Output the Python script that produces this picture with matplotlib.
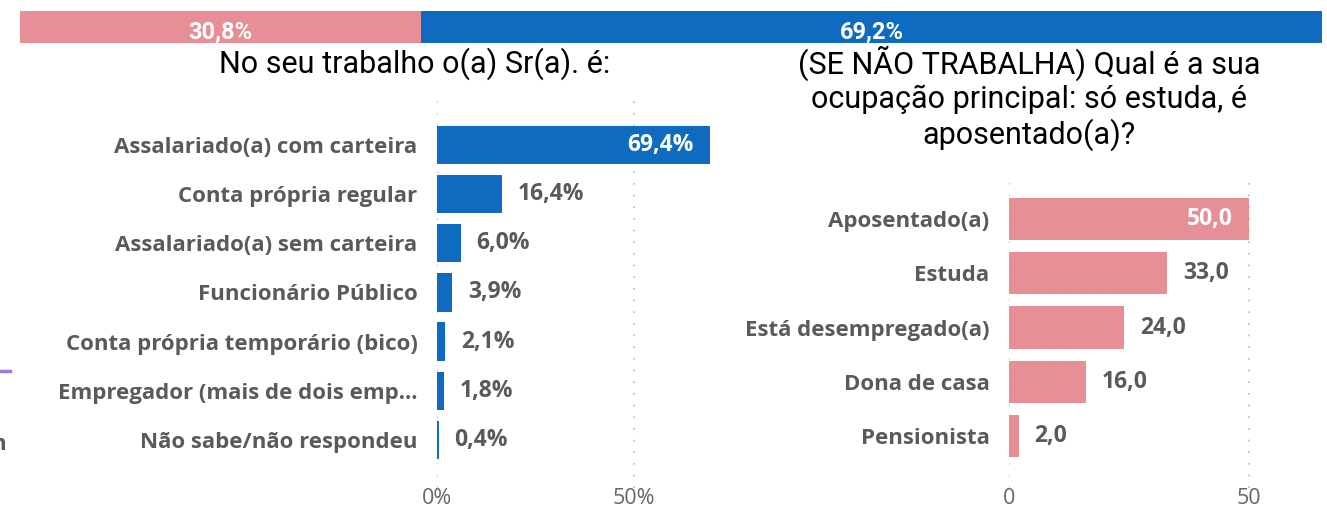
import matplotlib
matplotlib.use('Agg')
import numpy as np
from matplotlib import pyplot as plt

W, H = 1327, 514

# top split bar
split_labels = ['30,8%', '69,2%']
split_values = [30.8, 69.2]

# left chart
work_cats = ['Assalariado(a) com carteira', 'Conta própria regular', 'Assalariado(a) sem carteira',
             'Funcionário Público', 'Conta própria temporário (bico)',
             'Empregador (mais de dois emp...', 'Não sabe/não respondeu']
work_vals = [69.4, 16.4, 6.0, 3.9, 2.1, 1.8, 0.4]
work_labels = ['69,4%', '16,4%', '6,0%', '3,9%', '2,1%', '1,8%', '0,4%']

# right chart
occ_cats = ['Aposentado(a)', 'Estuda', 'Está desempregado(a)', 'Dona de casa', 'Pensionista']
occ_vals = [50.0, 33.0, 24.0, 16.0, 2.0]
occ_labels = ['50,0', '33,0', '24,0', '16,0', '2,0']

BLUE = '#0f6bbf'
PINK = '#e68f96'
GRAY = '#5a5a5a'
TITLE_FONT = ['Roboto', 'DejaVu Sans']
LABEL_FONT = ['Open Sans', 'DejaVu Sans']

fig = plt.figure(figsize=(W / 100, H / 100), dpi=100)


def px_axes(x0, y0, x1, y1):
    # pixel box (top-left origin) -> figure axes
    return fig.add_axes([x0 / W, 1 - y1 / H, (x1 - x0) / W, (y1 - y0) / H])


# top stacked bar
axt = px_axes(20, 11, 1322, 43)
left = 0
for v, lab, c in zip(split_values, split_labels, [PINK, BLUE]):
    axt.barh(0, v, left=left, height=1, color=c)
    axt.text(left + v / 2, -0.15, lab, ha='center', va='center', color='white',
             fontsize=17, fontweight='bold', family=TITLE_FONT)
    left += v
axt.set_xlim(0, 100)
axt.set_ylim(-0.5, 0.5)
axt.axis('off')


def hbar_panel(ax, cats, vals, labels, color, ymax, ymin):
    y = np.arange(len(cats))
    ax.barh(y, vals, height=0.78, color=color, zorder=2)
    ax.set_ylim(ymax, ymin)
    ax.set_yticks(y)
    ax.set_yticklabels(cats, fontsize=16, fontweight='bold', color=GRAY, family=LABEL_FONT)
    top = max(vals)
    for yi, v, lab in zip(y, vals, labels):
        if v == top:
            ax.annotate(lab, (v, yi), xytext=(-12, 0), textcoords='offset points',
                        ha='right', va='center', color='white', fontsize=16.5,
                        fontweight='bold', family=LABEL_FONT)
        else:
            ax.annotate(lab, (v, yi), xytext=(11.5, 0), textcoords='offset points',
                        ha='left', va='center', color=GRAY, fontsize=16.5,
                        fontweight='bold', family=LABEL_FONT)
    ax.set_axisbelow(True)
    ax.grid(axis='x', color='#bbbbbb', linewidth=1.2, linestyle=(0, (1, 6)))
    ax.grid(axis='y', visible=False)
    ax.tick_params(axis='y', length=0, pad=14)
    ax.tick_params(axis='x', length=0, pad=0, labelsize=15.5, labelcolor='#666666')
    for lab in ax.get_xticklabels():
        lab.set_family(LABEL_FONT)
    for s in ax.spines.values():
        s.set_visible(False)


axl = px_axes(437, 100, 720, 488)
axl.set_xlim(0, (720 - 437) / 3.94)
axl.set_xticks([0, 50])
axl.set_xticklabels(['0%', '50%'])
hbar_panel(axl, work_cats, work_vals, work_labels, BLUE, 6.977, -0.915)

axr = px_axes(1009, 180, 1300, 488)
axr.set_xlim(0, (1300 - 1009) / 4.8)
axr.set_xticks([0, 50])
axr.set_xticklabels(['0', '50'])
hbar_panel(axr, occ_cats, occ_vals, occ_labels, PINK, 4.958, -0.719)

fig.text(415 / W, 1 - 64 / H, 'No seu trabalho o(a) Sr(a). é:', ha='center', va='center',
         fontsize=22, family=TITLE_FONT, color='black')
fig.text(1029 / W, 1 - 98 / H,
         '(SE NÃO TRABALHA) Qual é a sua\nocupação principal: só estuda, é\naposentado(a)?',
         ha='center', va='center', fontsize=22, family=TITLE_FONT,
         color='black', linespacing=1.16)

# clipped bits at the left edge
fig.add_artist(plt.Line2D([0, 10 / W], [1 - 370.5 / H, 1 - 370.5 / H], color='#9b7fd4', linewidth=2.5))
fig.text(6 / W, 1 - 445 / H, 'n', ha='right', va='center', fontsize=16, fontweight='bold',
         color=GRAY, family=LABEL_FONT)

fig.savefig('out.png', dpi=100)
